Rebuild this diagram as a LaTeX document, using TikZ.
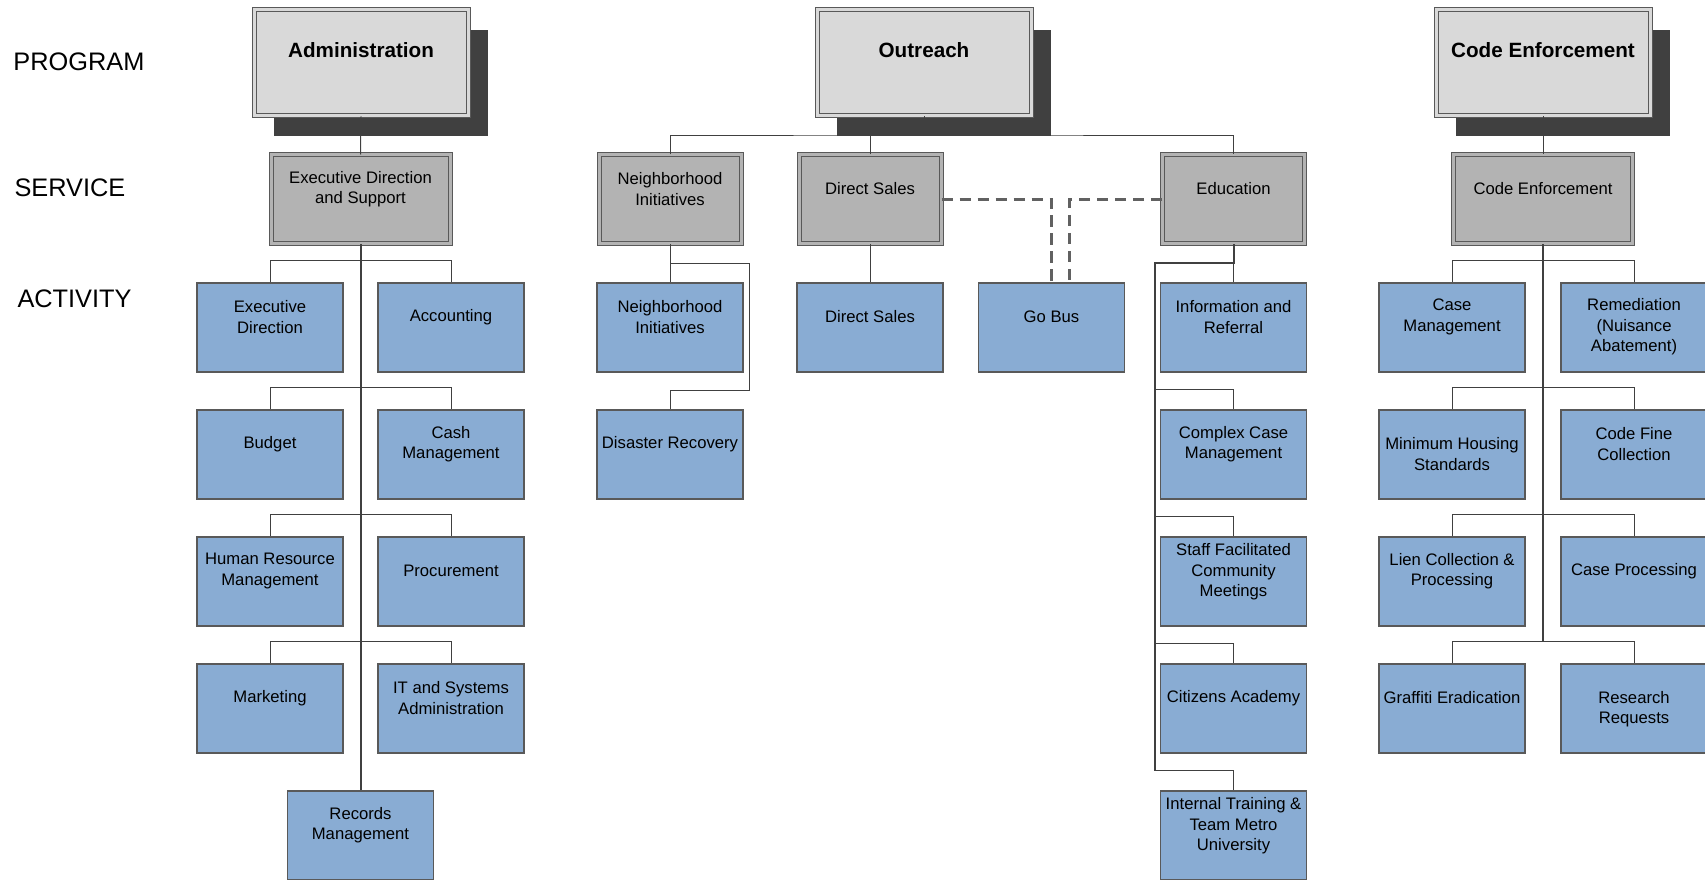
\documentclass[tikz,border=0pt]{standalone}
\usepackage{fontspec}
\setmainfont{Liberation Sans}
\usetikzlibrary{calc,shadows}

\definecolor{actblue}{RGB}{137,172,211}
\definecolor{svcgray}{RGB}{179,179,179}
\definecolor{prggray}{RGB}{217,217,217}
\definecolor{shadegray}{RGB}{64,64,64}
\definecolor{linegray}{RGB}{64,64,64}

\tikzset{every picture/.style={line width=0.75pt}}
\tikzset{
  prog/.style={draw=black!65, double=prggray, double distance=2.25pt, fill=prggray,
    minimum width=160.5pt, minimum height=79.5pt, inner sep=0pt,
    general shadow={fill=shadegray, shadow xshift=15pt, shadow yshift=-15pt}},
  svcw/.style={draw=black!65, double=svcgray, double distance=2.25pt, fill=svcgray,
    minimum width=134.25pt, minimum height=66.75pt, inner sep=0pt},
  svc/.style={svcw, minimum width=106.5pt},
  act/.style={draw=black!65, line width=1.1pt, fill=actblue,
    minimum width=109.5pt, minimum height=66.75pt, inner sep=0pt},
  progtxt/.style={inner sep=0pt, font=\fontsize{15.5}{18}\selectfont\bfseries},
  acttxt/.style={inner sep=0pt, align=center, font=\fontsize{12.5}{15.4}\selectfont},
  lvl/.style={anchor=west, inner sep=0pt, font=\fontsize{19}{22}\selectfont},
  conn/.style={draw=linegray, line width=0.75pt},
  trunk/.style={draw=linegray, line width=1.5pt},
  link/.style={draw=black!62, line width=1.7pt, dash pattern=on 8.5pt off 5pt}
}

\begin{document}
\begin{tikzpicture}[x=0.75pt,y=0.75pt,yscale=-1,xscale=1]
\useasboundingbox (0,0) rectangle (1705,880);
\clip (0,0) rectangle (1705,880);

% Level labels
\node[lvl] (lprog) at (13,62) {PROGRAM};
\node[lvl] (lsvc) at (14,188) {SERVICE};
\node[lvl] (lact) at (17,299) {ACTIVITY};

%Shape: Program boxes
\node[prog] (adm) at (361,63) {};
\node[progtxt] (adm-t) at (361,50) {Administration};
\node[prog] (outr) at (924,63) {};
\node[progtxt] (outr-t) at (924,50) {Outreach};
\node[prog] (cenf) at (1543,63) {};
\node[progtxt] (cenf-t) at (1543,50) {Code Enforcement};

%Shape: Service boxes
\node[svcw] (exsup) at (360.5,199.5) {};
\node[acttxt] (exsup-t) at (360.5,189) {Executive Direction\\and Support};
\node[svc] (nisvc) at (670,199.5) {};
\node[acttxt] (nisvc-t) at (670,189) {Neighborhood\\Initiatives};
\node[svc] (dssvc) at (870,199.5) {};
\node[acttxt] (dssvc-t) at (870,189) {Direct Sales};
\node[svc] (edusvc) at (1233.5,199.5) {};
\node[acttxt] (edusvc-t) at (1233.5,189) {Education};
\node[svcw] (cesvc) at (1543,199.5) {};
\node[acttxt] (cesvc-t) at (1543,189) {Code Enforcement};

%Shape: Administration activities
\node[act] (exdir) at (270,327.5) {};
\node[acttxt] (exdir-t) at (270,317) {Executive\\Direction};
\node[act] (accnt) at (451,327.5) {};
\node[acttxt] (accnt-t) at (451,317) {Accounting};
\node[act] (budg) at (270,454.5) {};
\node[acttxt] (budg-t) at (270,444) {Budget};
\node[act] (cash) at (451,454.5) {};
\node[acttxt] (cash-t) at (451,444) {Cash\\Management};
\node[act] (hrm) at (270,581.5) {};
\node[acttxt] (hrm-t) at (270,571) {Human Resource\\Management};
\node[act] (proc) at (451,581.5) {};
\node[acttxt] (proc-t) at (451,571) {Procurement};
\node[act] (mkt) at (270,708.5) {};
\node[acttxt] (mkt-t) at (270,698) {Marketing};
\node[act] (itsa) at (451,708.5) {};
\node[acttxt] (itsa-t) at (451,698) {IT and Systems\\Administration};
\node[act] (recm) at (360.5,835.5) {};
\node[acttxt] (recm-t) at (360.5,825) {Records\\Management};

%Shape: Outreach activities
\node[act] (niact) at (670,327.5) {};
\node[acttxt] (niact-t) at (670,317) {Neighborhood\\Initiatives};
\node[act] (disrec) at (670,454.5) {};
\node[acttxt] (disrec-t) at (670,444) {Disaster Recovery};
\node[act] (dsact) at (870,327.5) {};
\node[acttxt] (dsact-t) at (870,317) {Direct Sales};
\node[act] (gobus) at (1051.5,327.5) {};
\node[acttxt] (gobus-t) at (1051.5,317) {Go Bus};
\node[act] (infref) at (1233.5,327.5) {};
\node[acttxt] (infref-t) at (1233.5,317) {Information and\\Referral};
\node[act] (ccm) at (1233.5,454.5) {};
\node[acttxt] (ccm-t) at (1233.5,444) {Complex Case\\Management};
\node[act] (sfcm) at (1233.5,581.5) {};
\node[acttxt] (sfcm-t) at (1233.5,572) {Staff Facilitated\\Community\\Meetings};
\node[act] (citz) at (1233.5,708.5) {};
\node[acttxt] (citz-t) at (1233.5,698) {Citizens Academy};
\node[act] (itmu) at (1233.5,835.5) {};
\node[acttxt] (itmu-t) at (1233.5,826) {Internal Training \&\\Team Metro\\University};

%Shape: Code Enforcement activities
\node[act] (casem) at (1452,327.5) {};
\node[acttxt] (casem-t) at (1452,317) {Case\\Management};
\node[act] (remed) at (1634,327.5) {};
\node[acttxt] (remed-t) at (1634,327) {Remediation\\(Nuisance\\Abatement)};
\node[act] (mhs) at (1452,454.5) {};
\node[acttxt] (mhs-t) at (1452,454) {Minimum Housing\\Standards};
\node[act] (cfc) at (1634,454.5) {};
\node[acttxt] (cfc-t) at (1634,444) {Code Fine\\Collection};
\node[act] (lien) at (1452,581.5) {};
\node[acttxt] (lien-t) at (1452,571) {Lien Collection \&\\Processing};
\node[act] (casep) at (1634,581.5) {};
\node[acttxt] (casep-t) at (1634,571) {Case Processing};
\node[act] (graf) at (1452,708.5) {};
\node[acttxt] (graf-t) at (1452,698) {Graffiti Eradication};
\node[act] (resq) at (1634,708.5) {};
\node[acttxt] (resq-t) at (1634,709) {Research\\Requests};

%Straight Lines: Administration
\draw[conn] (adm.south) -- (exsup.north);
\draw[trunk] (exsup.south) -- (recm.north);
\draw[conn] (exdir.north) -- ++(0,-22) -| (accnt.north);
\draw[conn] (budg.north) -- ++(0,-22) -| (cash.north);
\draw[conn] (hrm.north) -- ++(0,-22) -| (proc.north);
\draw[conn] (mkt.north) -- ++(0,-22) -| (itsa.north);

%Straight Lines: Outreach
\coordinate (obus) at (924,136);
\draw[conn] (outr.south) -- (obus);
\draw[conn] (nisvc.north) |- (obus) -| (edusvc.north);
\draw[conn] (dssvc.north) -- (dssvc.north |- obus);
\draw[conn] (nisvc.south) -- (niact.north);
\draw[conn] (niact.north) ++(0,-19) -| ++(79,127) -- ++(-79,0) -- (disrec.north);
\draw[conn] (dssvc.south) -- (dsact.north);
\draw[link] (dssvc.east) -| (gobus.north);
\draw[link] (edusvc.west) -| ($(gobus.north)+(18,0)$);
\coordinate (etop) at (1155,263);
\coordinate (ebot) at (1155,771);
\draw[trunk] (edusvc.south) |- (etop) -- (ebot);
\draw[conn] (etop -| infref.north) -- (infref.north);
\draw[conn] (etop |- ccm.north) ++(0,-20) -| (ccm.north);
\draw[conn] (etop |- sfcm.north) ++(0,-20) -| (sfcm.north);
\draw[conn] (etop |- citz.north) ++(0,-20) -| (citz.north);
\draw[conn] (etop |- itmu.north) ++(0,-20) -| (itmu.north);

%Straight Lines: Code Enforcement
\coordinate (cebot) at (1543,642);
\draw[conn] (cenf.south) -- (cesvc.north);
\draw[trunk] (cesvc.south) -- (cebot);
\draw[conn] (casem.north) -- ++(0,-22) -| (remed.north);
\draw[conn] (mhs.north) -- ++(0,-22) -| (cfc.north);
\draw[conn] (lien.north) -- ++(0,-22) -| (casep.north);
\draw[conn] (graf.north) -- ++(0,-22) -| (resq.north);

\end{tikzpicture}
\end{document}
